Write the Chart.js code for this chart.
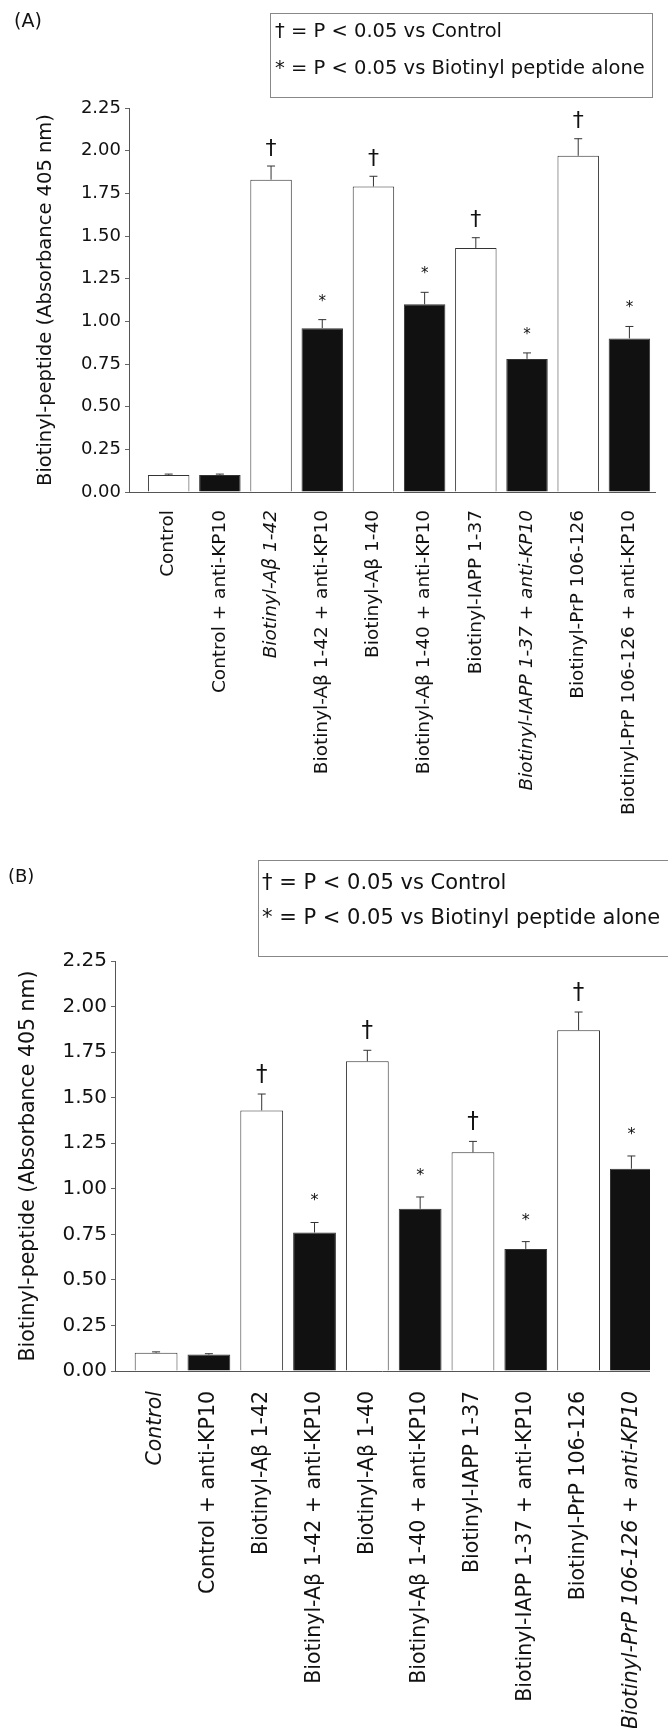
<!DOCTYPE html>
<html>
<head>
<meta charset="utf-8">
<script src="https://cdn.jsdelivr.net/npm/chart.js@4.4.1/dist/chart.umd.min.js"></script>
<style>
  html, body { margin: 0; padding: 0; background: #fff; }
  body { width: 668px; height: 1728px; position: relative; overflow: hidden;
         font-family: 'DejaVu Sans', sans-serif; color: #111; }
  canvas { position: absolute; left: 0; }
  #chartA { top: 0; }
  #chartB { top: 860px; }
  .txt { position: absolute; white-space: nowrap; }
  .key { position: absolute; border: 1px solid #888; }
</style>
</head>
<body>
<canvas id="chartA" width="668" height="860"></canvas>
<canvas id="chartB" width="668" height="868"></canvas>

<div class="txt" style="left:14px; top:11px; font-size:19px; line-height:19px;">(A)</div>
<div class="key" style="left:270px; top:13px; width:381px; height:83px;"></div>
<div class="txt" style="left:275px; top:21px; font-size:19.5px; line-height:19.5px;">† = P &lt; 0.05 vs Control</div>
<div class="txt" style="left:275px; top:58px; font-size:19.5px; line-height:19.5px;">* = P &lt; 0.05 vs Biotinyl peptide alone</div>

<div class="txt" style="left:8px; top:867px; font-size:18px; line-height:18px;">(B)</div>
<div class="key" style="left:258px; top:860px; width:440px; height:95px;"></div>
<div class="txt" style="left:262px; top:872px; font-size:21px; line-height:21px;">† = P &lt; 0.05 vs Control</div>
<div class="txt" style="left:262px; top:907px; font-size:21px; line-height:21px;">* = P &lt; 0.05 vs Biotinyl peptide alone</div>

<script>
const labels = [
  'Control',
  'Control + anti-KP10',
  'Biotinyl-Aβ 1-42',
  'Biotinyl-Aβ 1-42 + anti-KP10',
  'Biotinyl-Aβ 1-40',
  'Biotinyl-Aβ 1-40 + anti-KP10',
  'Biotinyl-IAPP 1-37',
  'Biotinyl-IAPP 1-37 + anti-KP10',
  'Biotinyl-PrP 106-126',
  'Biotinyl-PrP 106-126 + anti-KP10'
];
const yTicks = [0, 0.25, 0.5, 0.75, 1, 1.25, 1.5, 1.75, 2, 2.25];
const yTitle = 'Biotinyl-peptide (Absorbance 405 nm)';

// panel A
const valuesA = [0.10, 0.10, 1.83, 0.96, 1.79, 1.10, 1.43, 0.78, 1.97, 0.90];
const errorsA = [0.005, 0.005, 0.08, 0.05, 0.06, 0.07, 0.06, 0.035, 0.10, 0.07];
const marksA = ['', '', '†', '*', '†', '*', '†', '*', '†', '*'];

// panel B
const valuesB = [0.10, 0.09, 1.43, 0.76, 1.70, 0.89, 1.20, 0.67, 1.87, 1.11];
const errorsB = [0.005, 0.005, 0.09, 0.055, 0.06, 0.065, 0.06, 0.04, 0.10, 0.07];
const marksB = ['', '', '†', '*', '†', '*', '†', '*', '†', '*'];

Chart.defaults.font.family = "'DejaVu Sans', sans-serif";
Chart.defaults.color = '#111';

// error bars plus the significance marks above them
function errorBars(values, errors, marks, look) {
  return {
    id: 'errorBars',
    afterDatasetsDraw(chart) {
      const ctx = chart.ctx;
      const y = chart.scales.y;
      const bars = chart.getDatasetMeta(0).data;
      ctx.save();
      ctx.strokeStyle = '#333';
      ctx.fillStyle = '#111';
      ctx.lineWidth = 1;
      ctx.textAlign = 'center';
      bars.forEach((bar, i) => {
        const top = y.getPixelForValue(values[i] + errors[i]);
        ctx.beginPath();
        ctx.moveTo(bar.x, bar.y);
        ctx.lineTo(bar.x, top);
        ctx.moveTo(bar.x - 4, top);
        ctx.lineTo(bar.x + 4, top);
        ctx.stroke();
        if (marks[i] === '†') {
          ctx.font = look.daggerFont;
          ctx.textBaseline = 'middle';
          ctx.fillText('†', bar.x, top - look.daggerGap);
        } else if (marks[i] === '*') {
          ctx.font = look.starFont;
          ctx.textBaseline = 'alphabetic';
          ctx.fillText('*', bar.x, top - look.starGap + 8);
        }
      });
      ctx.restore();
    }
  };
}

function panel(id, values, errors, marks, look) {
  return new Chart(document.getElementById(id), {
    type: 'bar',
    data: {
      datasets: [{
        data: values.map((v, i) => ({ x: i, y: v })),
        backgroundColor: (c) => (c.dataIndex % 2 ? '#111' : '#fff'),
        borderColor: '#333',
        borderWidth: 1,
        barPercentage: 0.81,
        categoryPercentage: 1
      }]
    },
    options: {
      responsive: false,
      devicePixelRatio: 1,
      animation: false,
      layout: { padding: { top: look.top, right: look.right, left: 0, bottom: 0 } },
      plugins: { legend: { display: false }, tooltip: { enabled: false } },
      scales: {
        x: {
          type: 'linear',
          offset: false,
          min: look.xMin,
          max: look.xMax,
          afterBuildTicks: (s) => { s.ticks = labels.map((_, i) => ({ value: i })); },
          afterFit: (s) => { s.height = look.xHeight; },
          grid: { display: false },
          border: { display: true, color: '#555', width: 1 },
          ticks: {
            autoSkip: false,
            minRotation: 90,
            maxRotation: 90,
            padding: look.labelPad,
            color: '#111',
            font: (c) => ({ size: look.labelSize, style: look.italic.includes(c.index) ? 'italic' : 'normal' }),
            callback: (v) => labels[v]
          }
        },
        y: {
          min: 0,
          max: 2.25,
          afterBuildTicks: (s) => { s.ticks = yTicks.map((v) => ({ value: v })); },
          afterFit: (s) => { s.width = look.yWidth; },
          grid: { display: true, drawOnChartArea: false, drawTicks: true, tickLength: 4, color: '#666' },
          border: { display: true, color: '#555', width: 1 },
          ticks: {
            padding: 4,
            color: '#111',
            font: { size: look.tickSize },
            callback: (v) => v.toFixed(2)
          },
          title: {
            display: true,
            text: yTitle,
            color: '#111',
            font: { size: look.titleSize },
            padding: { top: look.titlePad, bottom: 0 }
          }
        }
      }
    },
    plugins: [errorBars(values, errors, marks, look)]
  });
}

panel('chartA', valuesA, errorsA, marksA, {
  top: 108, right: 13, xHeight: 368, yWidth: 129,
  xMin: -0.775, xMax: 9.5,
  labelSize: 18.5, labelPad: 10, tickSize: 18, titleSize: 19.5, titlePad: 34,
  italic: [2, 7],
  daggerFont: '22px "DejaVu Sans"', daggerGap: 17,
  starFont: '15px "DejaVu Sans"', starGap: 22
});

panel('chartB', valuesB, errorsB, marksB, {
  top: 101, right: 0, xHeight: 357, yWidth: 115,
  xMin: -0.778, xMax: 9.35,
  labelSize: 20.5, labelPad: 12, tickSize: 20, titleSize: 20.5, titlePad: 16,
  italic: [0, 9],
  daggerFont: '23px "DejaVu Sans"', daggerGap: 19,
  starFont: '16px "DejaVu Sans"', starGap: 25
});
</script>
</body>
</html>
